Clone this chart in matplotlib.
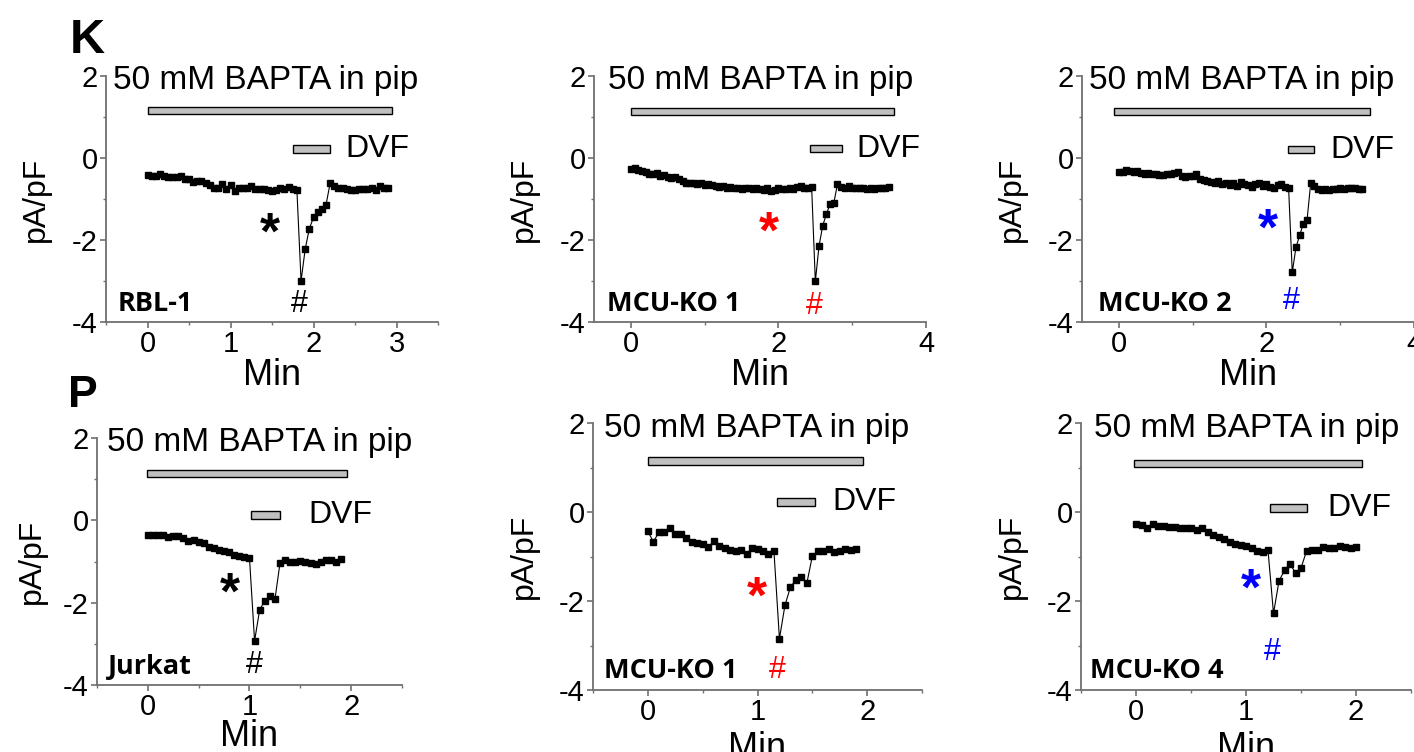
import matplotlib
matplotlib.use("Agg")
import matplotlib.pyplot as plt
from matplotlib.patches import Rectangle
from matplotlib.ticker import MultipleLocator

plt.rcParams["font.family"] = ["Liberation Sans", "DejaVu Sans"]
plt.rcParams["axes.spines.top"] = False
plt.rcParams["axes.spines.right"] = False
plt.rcParams["axes.unicode_minus"] = False

# ---- traces (time in min, current density in pA/pF) ----
rbl_t = [0.00, 0.05, 0.10, 0.15, 0.20, 0.25, 0.30, 0.35, 0.40, 0.45,
         0.50, 0.55, 0.60, 0.65, 0.70, 0.75, 0.80, 0.85, 0.90, 0.95,
         1.00, 1.05, 1.10, 1.15, 1.20, 1.25, 1.30, 1.35, 1.40, 1.45,
         1.50, 1.55, 1.60, 1.65, 1.70, 1.75, 1.80, 1.85, 1.90, 1.95,
         2.00, 2.05, 2.10, 2.15, 2.20, 2.25, 2.30, 2.35, 2.40, 2.45,
         2.50, 2.55, 2.60, 2.65, 2.70, 2.75, 2.80, 2.85, 2.90]
rbl_i = [-0.42, -0.44, -0.43, -0.40, -0.45, -0.46, -0.47, -0.46, -0.44, -0.50,
         -0.52, -0.58, -0.55, -0.57, -0.62, -0.65, -0.74, -0.72, -0.63, -0.75,
         -0.66, -0.80, -0.74, -0.74, -0.72, -0.68, -0.76, -0.75, -0.76, -0.78,
         -0.80, -0.78, -0.74, -0.76, -0.70, -0.76, -0.78, -3.00, -2.22, -1.72,
         -1.45, -1.32, -1.25, -1.15, -0.62, -0.68, -0.72, -0.74, -0.76, -0.77,
         -0.77, -0.76, -0.75, -0.76, -0.74, -0.78, -0.68, -0.73, -0.74]

ko1_t = [0.00, 0.05, 0.10, 0.15, 0.20, 0.25, 0.30, 0.35, 0.40, 0.45,
         0.50, 0.55, 0.60, 0.65, 0.70, 0.75, 0.80, 0.85, 0.90, 0.95,
         1.00, 1.05, 1.10, 1.15, 1.20, 1.25, 1.30, 1.35, 1.40, 1.45,
         1.50, 1.55, 1.60, 1.65, 1.70, 1.75, 1.80, 1.85, 1.90, 1.95,
         2.00, 2.05, 2.10, 2.15, 2.20, 2.25, 2.30, 2.35, 2.40, 2.45,
         2.50, 2.55, 2.60, 2.65, 2.70, 2.75, 2.80, 2.85, 2.90, 2.95,
         3.00, 3.05, 3.10, 3.15, 3.20, 3.25, 3.30, 3.35, 3.40, 3.45, 3.50]
ko1_i = [-0.28, -0.24, -0.29, -0.32, -0.35, -0.38, -0.40, -0.37, -0.43, -0.41,
         -0.46, -0.49, -0.47, -0.52, -0.55, -0.60, -0.62, -0.60, -0.63, -0.62,
         -0.65, -0.64, -0.66, -0.68, -0.71, -0.69, -0.72, -0.70, -0.73, -0.72,
         -0.75, -0.74, -0.73, -0.76, -0.74, -0.76, -0.79, -0.72, -0.80, -0.77,
         -0.74, -0.76, -0.75, -0.73, -0.76, -0.71, -0.68, -0.72, -0.73, -0.71,
         -3.01, -2.15, -1.65, -1.37, -1.12, -1.10, -0.64, -0.70, -0.72, -0.69,
         -0.73, -0.72, -0.74, -0.73, -0.75, -0.74, -0.76, -0.74, -0.73, -0.72, -0.71]

ko2_t = [0.00, 0.05, 0.10, 0.15, 0.20, 0.25, 0.30, 0.35, 0.40, 0.45,
         0.50, 0.55, 0.60, 0.65, 0.70, 0.75, 0.80, 0.85, 0.90, 0.95,
         1.00, 1.05, 1.10, 1.15, 1.20, 1.25, 1.30, 1.35, 1.40, 1.45,
         1.50, 1.55, 1.60, 1.65, 1.70, 1.75, 1.80, 1.85, 1.90, 1.95,
         2.00, 2.05, 2.10, 2.15, 2.20, 2.25, 2.30, 2.35, 2.40, 2.45,
         2.50, 2.55, 2.60, 2.65, 2.70, 2.75, 2.80, 2.85, 2.90, 2.95,
         3.00, 3.05, 3.10, 3.15, 3.20, 3.25, 3.30]
ko2_i = [-0.34, -0.33, -0.30, -0.32, -0.33, -0.31, -0.36, -0.38, -0.36, -0.38,
         -0.40, -0.41, -0.42, -0.40, -0.39, -0.37, -0.35, -0.45, -0.46, -0.44,
         -0.43, -0.40, -0.50, -0.53, -0.55, -0.58, -0.60, -0.57, -0.63, -0.60,
         -0.66, -0.62, -0.68, -0.59, -0.64, -0.66, -0.70, -0.64, -0.60, -0.68,
         -0.63, -0.70, -0.74, -0.67, -0.64, -0.70, -0.72, -2.79, -2.18, -1.89,
         -1.60, -1.52, -0.61, -0.68, -0.75, -0.78, -0.76, -0.77, -0.75, -0.76,
         -0.73, -0.75, -0.72, -0.74, -0.73, -0.76, -0.75]

jur_t = [0.00, 0.05, 0.10, 0.15, 0.20, 0.25, 0.30, 0.35, 0.40, 0.45,
         0.50, 0.55, 0.60, 0.65, 0.70, 0.75, 0.80, 0.85, 0.90, 0.95,
         1.00, 1.05, 1.10, 1.15, 1.20, 1.25, 1.30, 1.35, 1.40, 1.45,
         1.50, 1.55, 1.60, 1.65, 1.70, 1.75, 1.80, 1.85, 1.90]
jur_i = [-0.35, -0.35, -0.36, -0.36, -0.40, -0.37, -0.38, -0.44, -0.50, -0.47,
         -0.53, -0.55, -0.64, -0.68, -0.72, -0.74, -0.76, -0.85, -0.87, -0.88,
         -0.92, -2.93, -2.17, -1.96, -1.84, -1.92, -1.04, -0.97, -1.00, -1.02,
         -0.98, -1.01, -1.04, -1.05, -1.02, -0.97, -0.96, -1.02, -0.95]

jko1_t = [0.00, 0.05, 0.10, 0.15, 0.20, 0.25, 0.30, 0.35, 0.40, 0.45,
          0.50, 0.55, 0.60, 0.65, 0.70, 0.75, 0.80, 0.85, 0.90, 0.95,
          1.00, 1.05, 1.10, 1.15, 1.20, 1.25, 1.30, 1.35, 1.40, 1.45,
          1.50, 1.55, 1.60, 1.65, 1.70, 1.75, 1.80, 1.85, 1.90]
jko1_i = [-0.43, -0.67, -0.46, -0.46, -0.35, -0.49, -0.49, -0.58, -0.67, -0.70,
          -0.73, -0.79, -0.66, -0.77, -0.80, -0.85, -0.88, -0.86, -0.94, -0.82,
          -0.83, -0.88, -0.94, -0.88, -2.85, -2.10, -1.69, -1.52, -1.46, -1.60,
          -0.99, -0.87, -0.87, -0.84, -0.91, -0.87, -0.84, -0.86, -0.83]

jko4_t = [0.00, 0.05, 0.10, 0.15, 0.20, 0.25, 0.30, 0.35, 0.40, 0.45,
          0.50, 0.55, 0.60, 0.65, 0.70, 0.75, 0.80, 0.85, 0.90, 0.95,
          1.00, 1.05, 1.10, 1.15, 1.20, 1.25, 1.30, 1.35, 1.40, 1.45,
          1.50, 1.55, 1.60, 1.65, 1.70, 1.75, 1.80, 1.85, 1.90, 1.95, 2.00]
jko4_i = [-0.28, -0.30, -0.35, -0.26, -0.31, -0.32, -0.34, -0.34, -0.35, -0.35,
          -0.36, -0.41, -0.36, -0.45, -0.51, -0.56, -0.61, -0.67, -0.73, -0.74,
          -0.76, -0.82, -0.88, -0.91, -0.86, -2.28, -1.55, -1.31, -1.16, -1.37,
          -1.26, -0.88, -0.86, -0.85, -0.79, -0.80, -0.80, -0.76, -0.79, -0.80, -0.79]

times = [rbl_t, ko1_t, ko2_t, jur_t, jko1_t, jko4_t]
currents = [rbl_i, ko1_i, ko2_i, jur_i, jko1_i, jko4_i]
cell_labels = ["RBL-1", "MCU-KO 1", "MCU-KO 2", "Jurkat", "MCU-KO 1", "MCU-KO 4"]
mark_colors = ["black", "red", "blue", "black", "red", "blue"]

# application bars: (start, end, level) in data units
bapta_bars = [(0.0, 2.95, 1.15), (0.0, 3.57, 1.13), (-0.06, 3.40, 1.13),
              (-0.01, 1.96, 1.14), (0.0, 1.96, 1.14), (-0.02, 2.05, 1.09)]
dvf_bars = [(1.75, 2.20, 0.22), (2.43, 2.86, 0.23), (2.29, 2.64, 0.20),
            (1.01, 1.30, 0.13), (1.18, 1.52, 0.22), (1.22, 1.55, 0.08)]
dvf_text_x = [2.39, 3.06, 2.86, 1.58, 1.68, 1.74]
title_x = [-0.42, -0.31, -0.40, -0.40, -0.40, -0.38]
star_xy = [(1.47, -1.49), (1.87, -1.46), (2.02, -1.39),
           (0.81, -1.42), (0.99, -1.60), (1.04, -1.42)]
hash_xy = [(1.83, -3.56), (2.48, -3.60), (2.34, -3.48),
           (1.05, -3.52), (1.18, -3.54), (1.24, -3.15)]
label_x = [-0.36, -0.33, -0.28, -0.39, -0.40, -0.42]
xlims = [(-0.5, 3.5), (-0.5, 4), (-0.5, 4), (-0.5, 2.5), (-0.5, 2.5), (-0.5, 2.5)]
xmajor = [1, 2, 2, 1, 1, 1]

W, H = 1414, 752
boxes = [(106, 76, 332, 246), (594, 76, 332, 246), (1082, 76, 332, 246),
         (97, 438, 305, 247), (593, 423, 329, 267), (1081, 423, 330, 267)]
xlabel_y = [-0.148, -0.148, -0.148, -0.136, -0.152, -0.152]

fig = plt.figure(figsize=(W / 100, H / 100), dpi=100)
grey = "#707070"

for k in range(6):
    l, t, w, h = boxes[k]
    ax = fig.add_axes([l / W, 1 - (t + h) / H, w / W, h / H])
    ax.plot(times[k], currents[k], color="black", lw=0.8,
            marker="s", ms=4.0, mec="black", mfc="black")
    ax.set_xlim(*xlims[k])
    ax.set_ylim(-4, 2)
    ax.xaxis.set_major_locator(MultipleLocator(xmajor[k]))
    ax.xaxis.set_minor_locator(MultipleLocator(xmajor[k] / 2))
    ax.yaxis.set_major_locator(MultipleLocator(2))
    ax.yaxis.set_minor_locator(MultipleLocator(1))
    for s in ("left", "bottom"):
        ax.spines[s].set_color(grey)
        ax.spines[s].set_linewidth(1.3)
    ax.tick_params(which="major", direction="out", length=4, width=1.2,
                   color=grey, labelsize=21, pad=2)
    ax.tick_params(which="minor", direction="out", length=2.5, width=1.0,
                   color=grey)
    ax.set_xlabel("Min", fontsize=26)
    ax.set_ylabel("pA/pF", fontsize=23)
    ax.xaxis.set_label_coords(0.5, xlabel_y[k])
    ax.yaxis.set_label_coords(-0.165, 0.5)

    b0, b1, by = bapta_bars[k]
    ax.add_patch(Rectangle((b0, by - 0.085), b1 - b0, 0.17, fc="#c0c0c0",
                           ec="black", lw=1.0, clip_on=False))
    d0, d1, dy = dvf_bars[k]
    ax.add_patch(Rectangle((d0, dy - 0.09), d1 - d0, 0.18, fc="#c0c0c0",
                           ec="black", lw=1.0, clip_on=False))
    ax.text(dvf_text_x[k], dy, "DVF", fontsize=23, ha="left", va="center")
    ax.text(title_x[k], 1.69, "50 mM BAPTA in pip", fontsize=24,
            ha="left", va="baseline", clip_on=False)

    ax.annotate("*", star_xy[k], xytext=(0, -0.58 * 37), textcoords="offset points",
                ha="center", va="baseline", fontsize=37, fontweight="bold",
                color=mark_colors[k])
    ax.text(hash_xy[k][0], hash_xy[k][1], "#", fontsize=22, ha="center",
            va="center", color=mark_colors[k])
    ax.text(label_x[k], -3.74, cell_labels[k], fontsize=19.5, fontweight="bold",
            family=["Open Sans", "DejaVu Sans"], ha="left", va="baseline")

fig.text(70 / W, 1 - 53 / H, "K", fontsize=35, fontweight="bold",
         ha="left", va="baseline")
fig.text(68 / W, 1 - 407 / H, "P", fontsize=32, fontweight="bold",
         ha="left", va="baseline")

fig.savefig("out.png", dpi=100)
